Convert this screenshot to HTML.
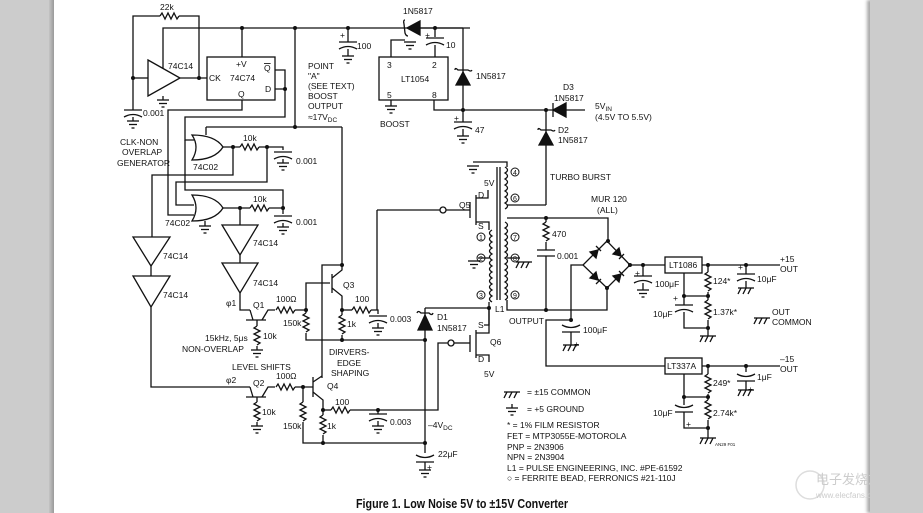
<!DOCTYPE html>
<html><head><meta charset="utf-8"><style>
html,body{margin:0;padding:0;background:#fff}
body{width:923px;height:513px;overflow:hidden;position:relative}
.lg{position:absolute;left:0;top:0;width:49px;height:513px;background:#ccc}
.ls{position:absolute;left:49px;top:0;width:5px;height:513px;background:linear-gradient(90deg,#c4c4c4,#9a9a9a)}
.rg{position:absolute;left:870px;top:0;width:53px;height:513px;background:#ccc;box-shadow:-3px 0 3px #aaa}
svg{position:absolute;left:0;top:0}
text{font-family:"Liberation Sans",sans-serif;font-size:8.5px;fill:#111}
</style></head><body>
<div class="lg"></div><div class="ls"></div><div class="rg"></div>
<svg width="923" height="513" viewBox="0 0 923 513">
<defs>
<g id="gnd" stroke="#111" stroke-width="1.3"><line x1="-6" y1="0" x2="6" y2="0"/><line x1="-4" y1="3.5" x2="4" y2="3.5"/><line x1="-1.5" y1="7" x2="1.5" y2="7"/></g>
<g id="chg" stroke="#111" stroke-width="1.3" fill="none"><line x1="-8" y1="0" x2="8" y2="0"/><line x1="-5" y1="0" x2="-8" y2="6"/><line x1="0" y1="0" x2="-3" y2="6"/><line x1="5" y1="0" x2="2" y2="6"/></g>
<g id="rh" stroke="#111" stroke-width="1.3" fill="none"><path d="M0 0 l2 -3 l3 6 l3 -6 l3 6 l3 -6 l3 6 l2 -3"/></g>
<g id="rv" stroke="#111" stroke-width="1.3" fill="none"><path d="M0 0 l-3 2 l6 3 l-6 3 l6 3 l-6 3 l6 3 l-3 2"/></g>
<g id="cap" stroke="#111" stroke-width="1.3" fill="none"><line x1="-9" y1="0" x2="9" y2="0"/><path d="M-9 7 Q0 2 9 7"/></g>
<g id="capi" stroke="#111" stroke-width="1.3" fill="none"><path d="M-9 0 Q0 5 9 0"/><line x1="-9" y1="7" x2="9" y2="7"/></g>
</defs>
<g stroke="#111" stroke-width="1.3" fill="none">
<polyline points="133,110 133,16 160,16"/><use href="#rh" x="160" y="16"/><polyline points="179,16 199,16 199,78"/>
<polyline points="133,78 148,78"/><path d="M148,60 L180,78 L148,96 Z"/><polyline points="180,78 207,78"/>
<polyline points="163,68 163,28 400,28"/><polyline points="163,96 163,100"/>
<use href="#cap" x="133" y="110"/><line x1="133" y1="117" x2="133" y2="121"/><use href="#gnd" x="133" y="121"/>
<use href="#gnd" x="163" y="100"/>
<rect x="207" y="57" width="68" height="43"/>
<line x1="242" y1="28" x2="242" y2="57"/>
<line x1="348" y1="28" x2="348" y2="42"/><use href="#cap" x="348" y="42"/><line x1="348" y1="49" x2="348" y2="56"/><use href="#gnd" x="348" y="56"/>
<polyline points="275,70 285,70 285,89 275,89"/><polyline points="285,89 285,117 185,117 185,140 194,140"/>
<polyline points="242,100 242,110 168,110 168,215 194,215"/>
<polyline points="295,28 295,127"/><polyline points="342,127 342,265"/><polyline points="206,127 342,127"/><polyline points="206,127 206,135"/>
<path d="M192,135 Q200,147 192,160 Q215,160 223,147 Q215,135 192,135 Z"/>
<polyline points="223,147 240,147"/><use href="#rh" x="240" y="147"/><polyline points="259,147 283,147 283,150"/>
<use href="#cap" x="283" y="152"/><line x1="283" y1="159" x2="283" y2="163"/><use href="#gnd" x="283" y="163"/>
<polyline points="233,147 233,175 152,175 152,237"/>
<polyline points="267,147 267,182 176,182 176,205 194,205"/>
<polyline points="185,140 185,190 283,190 283,208"/>
<path d="M192,195 Q200,208 192,221 Q215,221 223,208 Q215,195 192,195 Z"/>
<polyline points="223,208 250,208"/><use href="#rh" x="250" y="208"/><polyline points="269,208 283,208 283,214"/>
<use href="#cap" x="283" y="216"/><line x1="283" y1="223" x2="283" y2="227"/><use href="#gnd" x="283" y="227"/>
<line x1="205" y1="221" x2="205" y2="226"/><use href="#gnd" x="205" y="226"/>
<polyline points="240,208 240,225"/>
<path d="M222,225 L258,225 L240,255 Z"/><line x1="240" y1="255" x2="240" y2="263"/><path d="M222,263 L258,263 L240,293 Z"/>
<polyline points="240,293 240,310 250,310"/>
<path d="M133,237 L170,237 L151,266 Z"/><line x1="151" y1="266" x2="151" y2="276"/><path d="M133,276 L170,276 L151,307 Z"/>
<polyline points="151,307 151,387 250,387"/>
<line x1="246" y1="320" x2="266" y2="320"/><line x1="250" y1="310" x2="253" y2="320"/><polyline points="262,320 268,310 275,310"/>
<use href="#rh" x="276" y="310"/><polyline points="295,310 306,310 306,313"/>
<use href="#rv" x="306" y="313"/><polyline points="306,333 306,340 425,340"/>
<polyline points="306,310 306,283 330,283"/>
<polyline points="257,320 257,326"/><use href="#rv" x="257" y="326"/><polyline points="257,346 257,350"/><use href="#gnd" x="257" y="350"/>
<line x1="332" y1="274" x2="332" y2="293"/><polyline points="332,278 342,270 342,265"/><polyline points="332,288 342,296 342,310"/>
<polyline points="342,265 322,265 322,378"/>
<polyline points="342,310 352,310"/><use href="#rh" x="352" y="310"/><polyline points="371,310 378,310 378,314"/>
<use href="#cap" x="378" y="316"/><line x1="378" y1="323" x2="378" y2="328"/><use href="#gnd" x="378" y="328"/>
<polyline points="377,210 377,310"/>
<polyline points="342,310 342,315"/><use href="#rv" x="342" y="315"/><polyline points="342,335 342,340"/>
<line x1="246" y1="397" x2="266" y2="397"/><line x1="250" y1="387" x2="253" y2="397"/><polyline points="262,397 268,387 275,387"/>
<use href="#rh" x="276" y="387"/><polyline points="295,387 313,387"/>
<polyline points="257,397 257,402"/><use href="#rv" x="257" y="402"/><polyline points="257,422 257,426"/><use href="#gnd" x="257" y="426"/>
<polyline points="303,387 303,402"/><use href="#rv" x="303" y="402"/><polyline points="303,422 303,443 425,443"/>
<line x1="313" y1="377" x2="313" y2="397"/><polyline points="313,382 322,376"/><polyline points="313,392 323,400 323,410"/>
<polyline points="323,410 331,410"/><use href="#rh" x="331" y="410"/><polyline points="350,410 438,410 438,343 448,343"/>
<use href="#cap" x="378" y="414"/><line x1="378" y1="410" x2="378" y2="414"/><line x1="378" y1="421" x2="378" y2="426"/><use href="#gnd" x="378" y="426"/>
<polyline points="323,410 323,415"/><use href="#rv" x="323" y="415"/><polyline points="323,435 323,443"/>
<polyline points="425,308 489,308"/><line x1="425" y1="308" x2="425" y2="453"/>
<path d="M425,315 L418,330 L432,330 Z" fill="#111"/><path d="M417,313 Q418,310 421,313 L429,313 Q432,316 433,313"/>
<use href="#capi" x="425" y="455"/><line x1="425" y1="462" x2="425" y2="470"/><use href="#gnd" x="425" y="470"/>
<rect x="379" y="57" width="69" height="43"/>
<polyline points="391,57 391,40 405,40"/><use href="#gnd" x="410" y="42"/>
<line x1="391" y1="100" x2="391" y2="106"/><use href="#gnd" x="391" y="106"/>
<polyline points="400,28 470,28 463,28 463,110"/>
<path d="M407,28 L420,21 L420,35 Z" fill="#111"/><path d="M405,20 Q403,20 404,24 L405,33 Q406,36 408,36"/>
<polyline points="420,28 463,28"/>
<line x1="435" y1="28" x2="435" y2="37"/><use href="#cap" x="435" y="38"/><line x1="435" y1="45" x2="435" y2="57"/>
<path d="M463,72 L456,85 L470,85 Z" fill="#111"/><path d="M455,70 Q455,67 458,70 L468,70 Q471,72 472,70"/>
<polyline points="434,100 434,110 546,110 553,110"/>
<path d="M553,110 L566,103 L566,117 Z" fill="#111"/><line x1="553" y1="103" x2="553" y2="117"/><line x1="566" y1="110" x2="585" y2="110"/>
<use href="#cap" x="463" y="122"/><line x1="463" y1="110" x2="463" y2="122"/><line x1="463" y1="129" x2="463" y2="136"/><use href="#gnd" x="463" y="136"/>
<line x1="546" y1="110" x2="546" y2="205"/>
<path d="M546,132 L539,145 L553,145 Z" fill="#111"/><path d="M538,130 Q538,127 541,130 L551,130 Q554,132 555,130"/>
<polyline points="546,205 507,205"/>
<line x1="497" y1="167" x2="497" y2="300"/><line x1="500" y1="167" x2="500" y2="300"/>
<polyline points="473,162 507,162 507,167"/><use href="#gnd" x="473" y="166"/>
<path d="M505,167 q5 3 0 6 q5 3 0 6 q5 3 0 6 q5 3 0 6 q5 3 0 6 q5 3 0 6 q5 3 0 6"/>
<path d="M505,222 q5 3 0 6 q5 3 0 6 q5 3 0 6 q5 3 0 6 q5 3 0 6 q5 3 0 6 q5 3 0 6 q5 3 0 6 q5 3 0 6 q5 3 0 6 q5 3 0 6 q5 3 0 6 q5 3 0 6"/>
<path d="M492,230 q-5 3 0 6 q-5 3 0 6 q-5 3 0 6 q-5 3 0 6 q-5 3 0 6 q-5 3 0 6 q-5 3 0 6 q-5 3 0 6 q-5 3 0 6 q-5 3 0 6 q-5 3 0 6 q-5 3 0 6"/>
<polyline points="507,218 608,218 608,241"/>
<polyline points="489,302 489,308 489,325 484,325"/>
<polyline points="507,300 507,310 607,310 607,288"/>
<line x1="507" y1="258" x2="520" y2="258"/><use href="#chg" x="524" y="262"/>
<line x1="489" y1="258" x2="478" y2="258"/><use href="#gnd" x="474" y="261"/>
<polyline points="377,210 440,210"/><circle cx="443" cy="210" r="3" fill="#fff"/><line x1="446" y1="210" x2="470" y2="210"/>
<line x1="470" y1="202" x2="470" y2="218"/><line x1="476" y1="195" x2="476" y2="225"/>
<polyline points="476,198 488,198 488,190"/><polyline points="476,222 489,222 489,230"/>
<circle cx="451" cy="343" r="3" fill="#fff"/><line x1="454" y1="343" x2="470" y2="343"/>
<line x1="470" y1="335" x2="470" y2="352"/><line x1="476" y1="330" x2="476" y2="358"/>
<polyline points="476,333 489,333 489,308"/><polyline points="476,355 489,355 489,362"/>
<line x1="546" y1="218" x2="546" y2="222"/><use href="#rv" x="546" y="222"/><line x1="546" y1="242" x2="546" y2="250"/>
<line x1="537" y1="250" x2="555" y2="250"/><line x1="537" y1="256" x2="555" y2="256"/><line x1="546" y1="256" x2="546" y2="310"/>
<path d="M607,241 L583,265 L607,288 L630,265 Z"/>
<path d="M598,250 L596,258 L590,252 Z M621,256 L619,248 L613,254 Z M598,280 L596,272 L590,278 Z M621,274 L619,282 L613,276 Z" fill="#111"/>
<path d="M596,246 l5 5 M619,259 l5 -5 M596,284 l5 -5 M619,271 l5 5"/>
<polyline points="583,265 571,265 571,320 546,320 546,366 665,366"/>
<use href="#capi" x="571" y="325"/><line x1="571" y1="332" x2="571" y2="345"/><use href="#chg" x="571" y="345"/>
<polyline points="630,265 665,265"/><rect x="665" y="257" width="37" height="16"/>
<polyline points="702,265 780,265"/>
<line x1="643" y1="265" x2="643" y2="276"/><use href="#cap" x="643" y="276"/><line x1="643" y1="283" x2="643" y2="290"/><use href="#gnd" x="643" y="290"/>
<line x1="746" y1="265" x2="746" y2="274"/><use href="#cap" x="746" y="274"/><line x1="746" y1="281" x2="746" y2="288"/><use href="#chg" x="746" y="288"/>
<line x1="708" y1="265" x2="708" y2="272"/><use href="#rv" x="708" y="272"/><line x1="708" y1="292" x2="708" y2="300"/><use href="#rv" x="708" y="300"/><line x1="708" y1="320" x2="708" y2="336"/><use href="#chg" x="708" y="336"/>
<polyline points="684,273 684,296 708,296"/><line x1="684" y1="296" x2="684" y2="305"/><use href="#cap" x="684" y="305"/><polyline points="684,312 684,328 708,328"/>
<use href="#chg" x="762" y="318"/>
<rect x="665" y="358" width="37" height="16"/><polyline points="702,366 780,366"/>
<line x1="746" y1="366" x2="746" y2="372"/><use href="#capi" x="746" y="374"/><line x1="746" y1="381" x2="746" y2="390"/><use href="#chg" x="746" y="390"/>
<line x1="708" y1="366" x2="708" y2="374"/><use href="#rv" x="708" y="374"/><line x1="708" y1="394" x2="708" y2="400"/><use href="#rv" x="708" y="400"/><line x1="708" y1="420" x2="708" y2="438"/><use href="#chg" x="708" y="438"/>
<polyline points="684,374 684,397 708,397"/><line x1="684" y1="397" x2="684" y2="405"/><use href="#capi" x="684" y="405"/><polyline points="684,412 684,428 708,428"/>
<use href="#chg" x="512" y="392"/><use href="#gnd" x="512" y="408"/><line x1="512" y1="404" x2="512" y2="408"/>
</g>
<g fill="#111">
<circle cx="133" cy="78" r="2"/><circle cx="199" cy="78" r="2"/><circle cx="242" cy="28" r="2"/><circle cx="295" cy="28" r="2"/><circle cx="348" cy="28" r="2"/><circle cx="435" cy="28" r="2"/>
<circle cx="285" cy="89" r="2"/><circle cx="295" cy="127" r="2"/><circle cx="233" cy="147" r="2"/><circle cx="267" cy="147" r="2"/><circle cx="240" cy="208" r="2"/><circle cx="283" cy="208" r="2"/>
<circle cx="306" cy="310" r="2"/><circle cx="342" cy="265" r="2"/><circle cx="342" cy="310" r="2"/><circle cx="342" cy="340" r="2"/><circle cx="425" cy="340" r="2"/>
<circle cx="303" cy="387" r="2"/><circle cx="323" cy="410" r="2"/><circle cx="378" cy="410" r="2"/><circle cx="323" cy="443" r="2"/><circle cx="425" cy="443" r="2"/>
<circle cx="463" cy="110" r="2"/><circle cx="546" cy="110" r="2"/><circle cx="489" cy="308" r="2"/><circle cx="546" cy="218" r="2"/><circle cx="546" cy="310" r="2"/><circle cx="571" cy="320" r="2"/><circle cx="608" cy="241" r="2"/><circle cx="630" cy="265" r="2"/><circle cx="607" cy="288" r="2"/>
<circle cx="643" cy="265" r="2"/><circle cx="708" cy="265" r="2"/><circle cx="746" cy="265" r="2"/><circle cx="708" cy="296" r="2"/><circle cx="684" cy="296" r="2"/><circle cx="708" cy="328" r="2"/>
<circle cx="708" cy="366" r="2"/><circle cx="746" cy="366" r="2"/><circle cx="708" cy="397" r="2"/><circle cx="684" cy="397" r="2"/><circle cx="708" cy="428" r="2"/>
</g>
<g>
<text x="160" y="10">22k</text><text x="168" y="69">74C14</text><text x="143" y="116">0.001</text>
<text x="120" y="145">CLK-NON</text><text x="122" y="155">OVERLAP</text><text x="117" y="166">GENERATOR</text>
<text x="236" y="67">+V</text><text x="230" y="81">74C74</text><text x="264" y="71" text-decoration="overline">Q</text><text x="265" y="92">D</text><text x="209" y="81">CK</text><text x="238" y="97">Q</text>
<text x="308" y="69">POINT</text><text x="308" y="79">"A"</text><text x="308" y="89">(SEE TEXT)</text><text x="308" y="99">BOOST</text><text x="308" y="109">OUTPUT</text><text x="308" y="120">≈17V<tspan style="font-size:6.5px" dy="2">DC</tspan></text>
<text x="243" y="141">10k</text><text x="296" y="164">0.001</text><text x="193" y="170">74C02</text>
<text x="253" y="202">10k</text><text x="296" y="225">0.001</text><text x="165" y="226">74C02</text>
<text x="253" y="246">74C14</text><text x="163" y="259">74C14</text><text x="253" y="286">74C14</text><text x="163" y="298">74C14</text>
<text x="226" y="306">φ1</text><text x="253" y="308">Q1</text><text x="276" y="302">100Ω</text><text x="283" y="326">150k</text><text x="263" y="339">10k</text>
<text x="343" y="288">Q3</text><text x="355" y="302">100</text><text x="347" y="327">1k</text><text x="390" y="322">0.003</text>
<text x="437" y="320">D1</text><text x="437" y="331">1N5817</text>
<text x="205" y="341">15kHz, 5μs</text><text x="182" y="352">NON-OVERLAP</text>
<text x="329" y="355">DIRVERS-</text><text x="337" y="366">EDGE</text><text x="331" y="376">SHAPING</text>
<text x="232" y="370">LEVEL SHIFTS</text><text x="226" y="383">φ2</text><text x="253" y="386">Q2</text><text x="276" y="379">100Ω</text>
<text x="327" y="389">Q4</text><text x="335" y="405">100</text><text x="283" y="429">150k</text><text x="327" y="429">1k</text><text x="390" y="425">0.003</text>
<text x="262" y="415">10k</text>
<text x="428" y="428">–4V<tspan style="font-size:6.5px" dy="2">DC</tspan></text><text x="438" y="457">22μF</text><text x="427" y="470">+</text>
<text x="403" y="14">1N5817</text><text x="340" y="38">+</text><text x="357" y="49">100</text><text x="425" y="38">+</text><text x="446" y="48">10</text>
<text x="387" y="68">3</text><text x="432" y="68">2</text><text x="401" y="82">LT1054</text><text x="387" y="98">5</text><text x="432" y="98">8</text><text x="380" y="127">BOOST</text>
<text x="476" y="79">1N5817</text><text x="454" y="121">+</text><text x="475" y="133">47</text>
<text x="563" y="90">D3</text><text x="554" y="101">1N5817</text><text x="595" y="109">5V<tspan style="font-size:6.5px" dy="2">IN</tspan></text><text x="595" y="120">(4.5V TO 5.5V)</text>
<text x="558" y="133">D2</text><text x="558" y="143">1N5817</text><text x="550" y="180">TURBO BURST</text>
<text x="484" y="186">5V</text><text x="459" y="208">Q5</text><text x="478" y="198">D</text><text x="478" y="229">S</text>
<text x="591" y="202">MUR 120</text><text x="597" y="213">(ALL)</text>
<text x="552" y="237">470</text><text x="557" y="259">0.001</text>
<text x="495" y="312">L1</text><text x="509" y="324">OUTPUT</text><text x="583" y="333">100μF</text><text x="574" y="347">+</text>
<text x="478" y="328">S</text><text x="490" y="345">Q6</text><text x="478" y="362">D</text><text x="484" y="377">5V</text>
<text x="669" y="268">LT1086</text><text x="667" y="369">LT337A</text>
<text x="635" y="276">+</text><text x="655" y="287">100μF</text><text x="738" y="270">+</text><text x="757" y="282">10μF</text>
<text x="713" y="284">124*</text><text x="713" y="315">1.37k*</text><text x="673" y="301">+</text><text x="653" y="317">10μF</text>
<text x="780" y="262">+15</text><text x="780" y="272">OUT</text><text x="772" y="315">OUT</text><text x="772" y="325">COMMON</text>
<text x="780" y="362">–15</text><text x="780" y="372">OUT</text><text x="757" y="380">1μF</text><text x="748" y="392">+</text>
<text x="713" y="386">249*</text><text x="713" y="416">2.74k*</text><text x="653" y="416">10μF</text><text x="686" y="427">+</text>
<text x="715" y="446" style="font-size:4.5px">AN29 F01</text>
<text x="527" y="395">= ±15 COMMON</text><text x="527" y="412">= +5 GROUND</text>
<text x="507" y="428">* = 1% FILM RESISTOR</text><text x="507" y="439">FET = MTP3055E-MOTOROLA</text><text x="507" y="450">PNP = 2N3906</text><text x="507" y="460">NPN = 2N3904</text>
<text x="507" y="471">L1 = PULSE ENGINEERING, INC. #PE-61592</text><text x="507" y="481">○ = FERRITE BEAD, FERRONICS #21-110J</text>
<text x="356" y="508" textLength="212" lengthAdjust="spacingAndGlyphs" style="font-size:12.5px;font-weight:bold">Figure 1. Low Noise 5V to ±15V Converter</text>
<circle cx="810" cy="485" r="14" fill="none" stroke="#ddd" stroke-width="1.5"/>
<text x="816" y="484" style="font-size:13px;fill:#ccc;font-family:'Noto Sans CJK SC',sans-serif">电子发烧友</text>
<text x="816" y="498" style="font-size:8px;fill:#ccc">www.elecfans.com</text>
</g>
<g>
<circle cx="515" cy="172" r="4" fill="none" stroke="#111"/><text x="513" y="175" style="font-size:7px">4</text>
<circle cx="515" cy="198" r="4" fill="none" stroke="#111"/><text x="513" y="201" style="font-size:7px">6</text>
<circle cx="515" cy="237" r="4" fill="none" stroke="#111"/><text x="513" y="240" style="font-size:7px">7</text>
<circle cx="515" cy="258" r="4" fill="none" stroke="#111"/><text x="513" y="261" style="font-size:7px">8</text>
<circle cx="515" cy="295" r="4" fill="none" stroke="#111"/><text x="513" y="298" style="font-size:7px">9</text>
<circle cx="481" cy="237" r="4" fill="none" stroke="#111"/><text x="479" y="240" style="font-size:7px">1</text>
<circle cx="481" cy="258" r="4" fill="none" stroke="#111"/><text x="479" y="261" style="font-size:7px">2</text>
<circle cx="481" cy="295" r="4" fill="none" stroke="#111"/><text x="479" y="298" style="font-size:7px">3</text>
</g>
</svg>
</body></html>
